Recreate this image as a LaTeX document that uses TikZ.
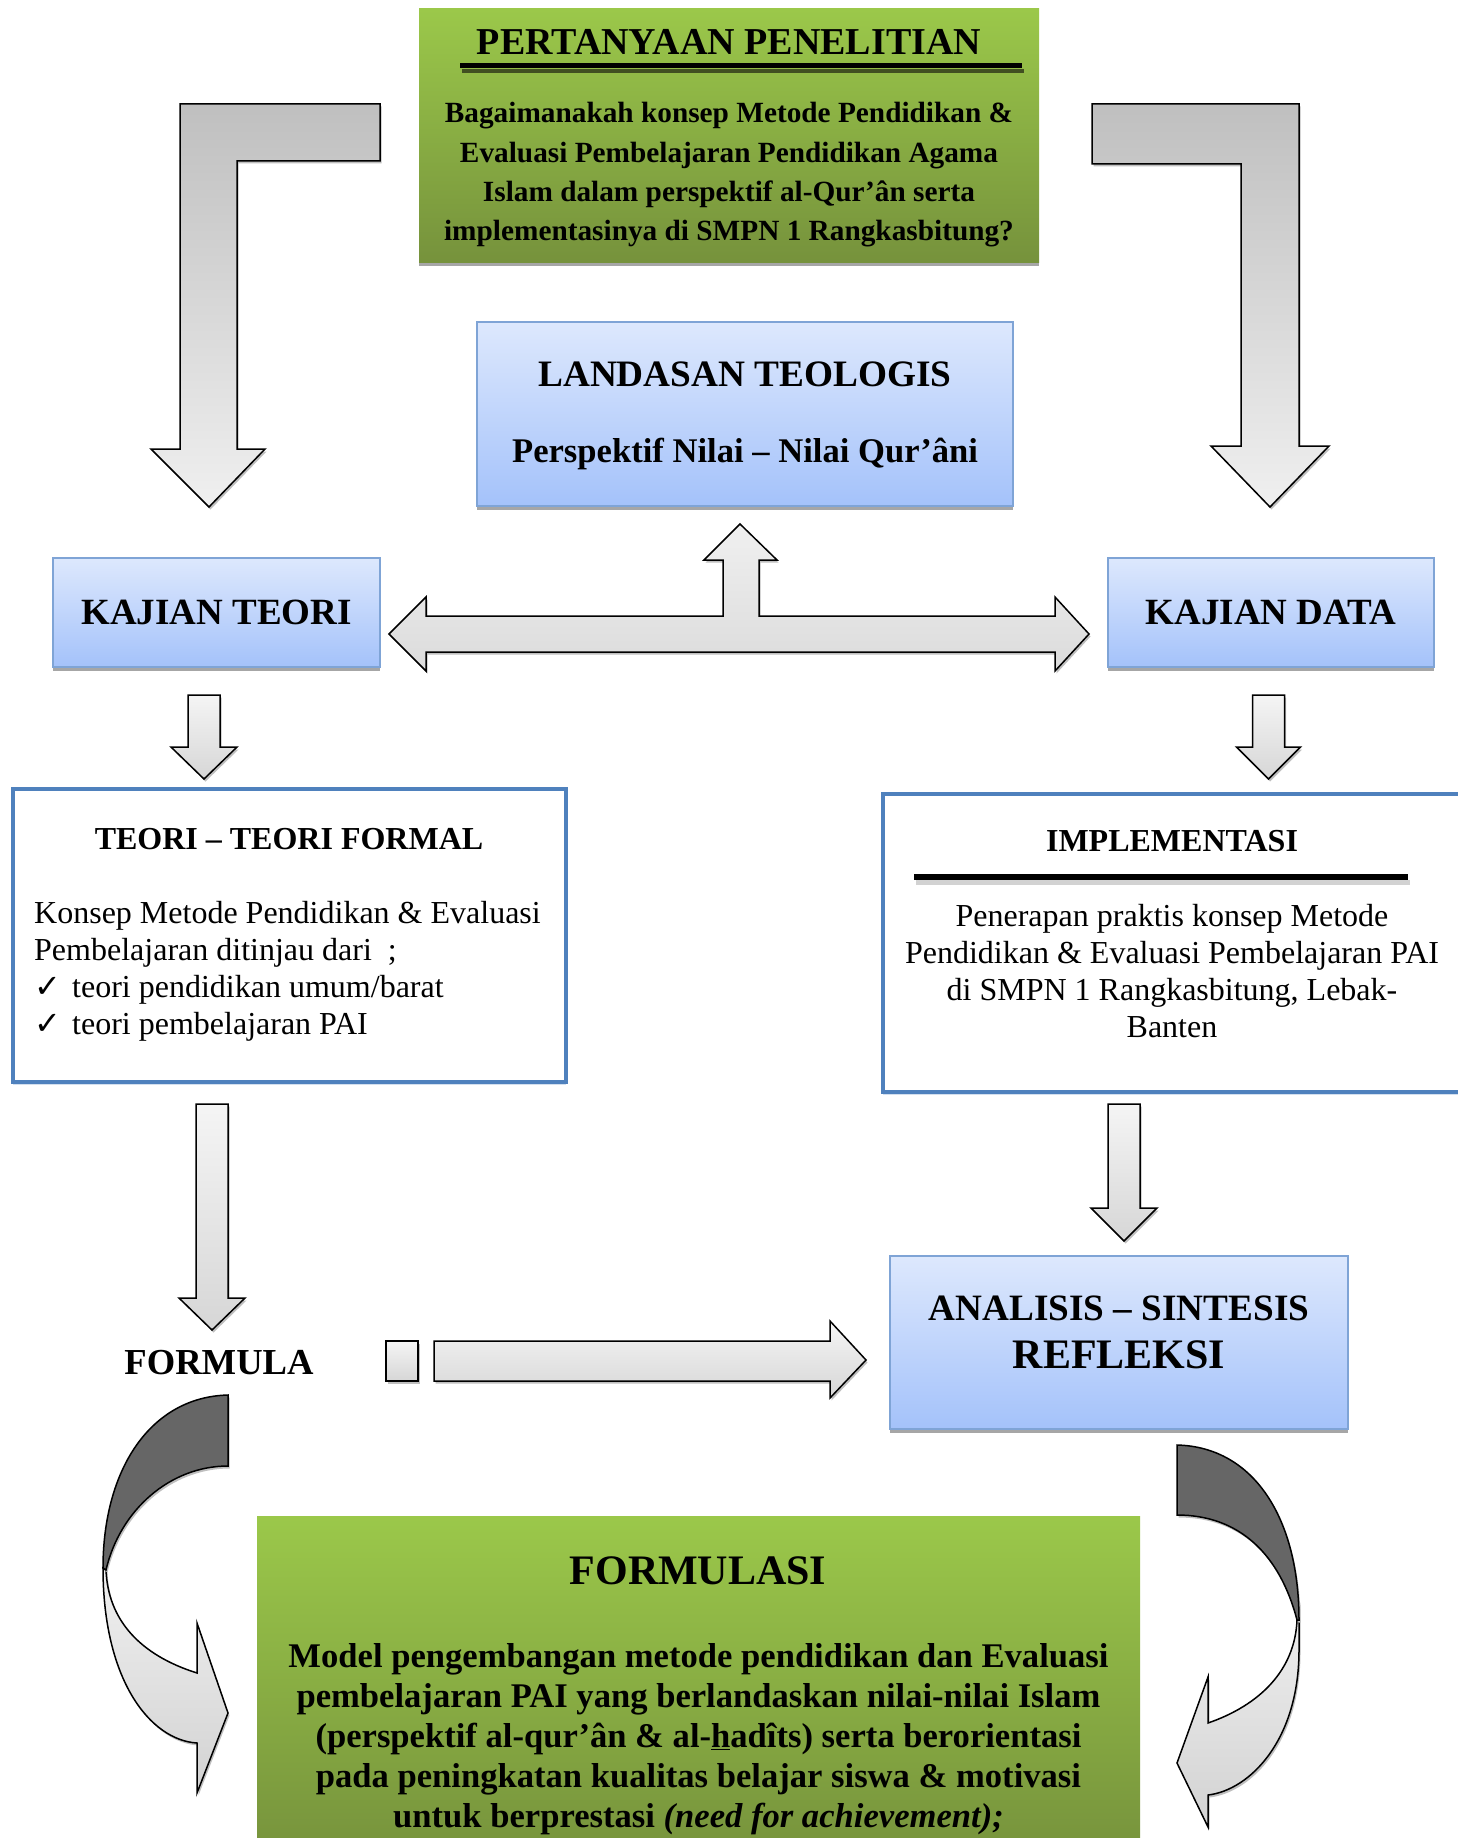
\documentclass[tikz,border=0pt]{standalone}
\usepackage{fontspec}
\setmainfont{Liberation Serif}
\newfontfamily\checkfont{DejaVu Sans}
\usetikzlibrary{shadows}
\definecolor{greentop}{HTML}{9BC84A}
\definecolor{greenbot}{HTML}{76923C}
\definecolor{bluetop}{HTML}{DDE8FD}
\definecolor{bluebot}{HTML}{A4C2FA}
\definecolor{blueline}{HTML}{7FA4D6}
\definecolor{frameblue}{HTML}{4F81BD}
\tikzset{
  greenbox/.style={inner sep=0pt,top color=greentop,bottom color=greenbot,general shadow={fill=gray!70,shadow yshift=-4pt}},
  bluebox/.style={inner sep=0pt,draw=blueline,line width=1.5pt,top color=bluetop,bottom color=bluebot,general shadow={fill=gray!70,shadow yshift=-4pt}},
  framebox/.style={inner sep=0pt,draw=frameblue,line width=4pt,fill=white,general shadow={fill=frameblue!25,shadow yshift=-3pt}},
  arrowline/.style={draw=black,line width=1.5pt,line join=miter,general shadow={fill=gray!50,shadow xshift=1.5pt,shadow yshift=-2.5pt}},
  blockarrow/.style={arrowline,top color=gray!8,bottom color=gray!32},
  darkarrow/.style={arrowline,fill=black!60},
  bigtitle/.style={font=\fontsize{#1}{#1}\selectfont\bfseries,inner sep=0pt},
  boldtext/.style={font=\fontsize{#1}{1.15*#1}\selectfont\bfseries,align=center,inner sep=0pt},
  plaintext/.style={font=\fontsize{32}{37}\selectfont,inner sep=0pt}
}
% block arrow pointing down: [opts]{x}{top}{head base}{tip}{half shaft}{half head}
\newcommand{\blockdown}[7][]{\path[blockarrow,#1] ({#2-#6},#3) -- ({#2+#6},#3) -- ({#2+#6},#4) -- ({#2+#7},#4) -- (#2,#5) -- ({#2-#7},#4) -- ({#2-#6},#4) -- cycle;}

\begin{document}
\begin{tikzpicture}[x=1pt,y=-1pt]
\useasboundingbox (0,0) rectangle (1457,1838);

% boxes
\node[greenbox,minimum width=620pt,minimum height=253pt] (question) at (729,135.5) {};
\node[bluebox,minimum width=536pt,minimum height=184pt] (landasan) at (745,414) {};
\node[bluebox,minimum width=327pt,minimum height=109pt] (teori) at (216.5,612.5) {};
\node[bluebox,minimum width=326pt,minimum height=109pt] (data) at (1271,612.5) {};
\node[framebox,minimum width=553pt,minimum height=293pt] (formal) at (289.5,935.5) {};
\node[framebox,minimum width=587pt,minimum height=298pt] (impl) at (1176.5,943) {};
\node[bluebox,minimum width=458pt,minimum height=173pt] (analisis) at (1119,1342.5) {};
\node[greenbox,minimum width=883pt,minimum height=344pt] (formulasi) at (698.5,1688) {};

% texts
\node[bigtitle=38] (qtitle) at (729,42) {PERTANYAAN PENELITIAN};
\draw[line width=4pt,black!45!greenbot] (462,71) -- (1024,71);
\draw[line width=5pt] (460,66) -- (1022,66);
\node[boldtext=29.3,font=\fontsize{29.3}{39.3}\selectfont\bfseries] (qtext) at (729,175)
  {Bagaimanakah konsep Metode Pendidikan \&\\Evaluasi Pembelajaran Pendidikan Agama\\Islam dalam perspektif al-Qur’ân serta\\implementasinya di SMPN 1 Rangkasbitung?};
\node[bigtitle=37.3] (ltitle) at (745,374) {LANDASAN TEOLOGIS};
\node[bigtitle=34.6] (lsub) at (745,454) {Perspektif Nilai – Nilai Qur’âni};
\node[bigtitle=37] at (teori) {KAJIAN TEORI};
\node[bigtitle=37] at (data) {KAJIAN DATA};
\node[bigtitle=32] (ftitle) at (289,839) {TEORI – TEORI FORMAL};
\node[plaintext,align=left,anchor=west] (ftext) at (34,971)
  {Konsep Metode Pendidikan \& Evaluasi\\Pembelajaran ditinjau dari~~;\\
   \makebox[38pt][l]{\checkfont ✓}teori pendidikan umum/barat\\
   \makebox[38pt][l]{\checkfont ✓}teori pembelajaran PAI};
\node[bigtitle=32] (ititle) at (1172,841) {IMPLEMENTASI};
\draw[line width=5pt,gray!35] (916,882) -- (1410,882);
\draw[line width=6pt] (914,877) -- (1408,877);
\node[plaintext,align=center] (itext) at (1172,971.5)
  {Penerapan praktis konsep Metode\\Pendidikan \& Evaluasi Pembelajaran PAI\\di SMPN 1 Rangkasbitung, Lebak-\\Banten};
\node[bigtitle=36.6] (formula) at (219,1363) {FORMULA};
\node[bigtitle=37.2] (atitle) at (1119,1308) {ANALISIS – SINTESIS};
\node[bigtitle=42] (refleksi) at (1119,1355) {REFLEKSI};
\node[bigtitle=42] (fmtitle) at (698,1571) {FORMULASI};
\node[boldtext=34.6,font=\fontsize{34.6}{40}\selectfont\bfseries] (fmtext) at (698.5,1739)
  {Model pengembangan metode pendidikan dan Evaluasi\\pembelajaran PAI yang berlandaskan nilai-nilai Islam\\(perspektif al-qur’ân \& al-\underline{h}adîts) serta berorientasi\\pada peningkatan kualitas belajar siswa \& motivasi\\untuk berprestasi \textit{(need for achievement);}};

% L-shaped arrows from the question
\path[blockarrow,top color=gray!50,bottom color=gray!12] (180,104) -- (380,104) -- (380,161) -- (237,161) -- (237,449)
  -- (265,449) -- (209,507) -- (151,449) -- (180,449) -- cycle;
\path[blockarrow,top color=gray!50,bottom color=gray!12] (1299,104) -- (1092,104) -- (1092,164) -- (1241,164) -- (1241,446)
  -- (1211,446) -- (1270,507) -- (1329,446) -- (1299,446) -- cycle;

% double arrow with branch up
\path[blockarrow,top color=gray!12,bottom color=gray!28] (389,634) -- (426,597) -- (426,616) -- (723,616) -- (723,560) -- (704,560)
  -- (740,524) -- (777,560) -- (759,560) -- (759,616) -- (1055,616) -- (1055,597) -- (1089,634)
  -- (1055,671) -- (1055,652) -- (426,652) -- (426,671) -- cycle;

% down arrows
\blockdown{204}{695}{747}{779}{16}{33}
\blockdown{1268.5}{695}{747}{779}{16}{32}
\blockdown{212}{1104}{1298}{1330}{16}{33}
\blockdown{1124}{1104}{1208}{1241}{16}{33}

% arrow to analisis
\path[blockarrow] (386,1341) rectangle (418,1381);
\path[blockarrow] (434,1341) -- (830,1341) -- (830,1321) -- (866,1360) -- (830,1398) -- (830,1381) -- (434,1381) -- cycle;

% curved arrows
\path[blockarrow,top color=gray!12,bottom color=gray!35] (103,1568) .. controls (103,1680) and (150,1740) .. (197,1743)
  -- (197,1793) -- (228,1713) -- (197,1623) -- (197,1673) .. controls (140,1655) and (108,1620) .. (106,1570) -- cycle;
\path[darkarrow] (228,1395) .. controls (150,1397) and (103,1470) .. (103,1568)
  -- (106,1570) .. controls (120,1510) and (170,1466) .. (228,1466) -- cycle;
\path[blockarrow,top color=gray!12,bottom color=gray!35] (1299,1600) -- (1299,1650) .. controls (1299,1740) and (1250,1790) .. (1208,1795)
  -- (1208,1827) -- (1177,1763) -- (1208,1677) -- (1208,1723) .. controls (1260,1705) and (1295,1670) .. (1297,1620) -- cycle;
\path[darkarrow] (1177,1445) .. controls (1255,1447) and (1299,1520) .. (1299,1620)
  -- (1297,1620) .. controls (1280,1555) and (1240,1515) .. (1177,1515) -- cycle;
\end{tikzpicture}
\end{document}
